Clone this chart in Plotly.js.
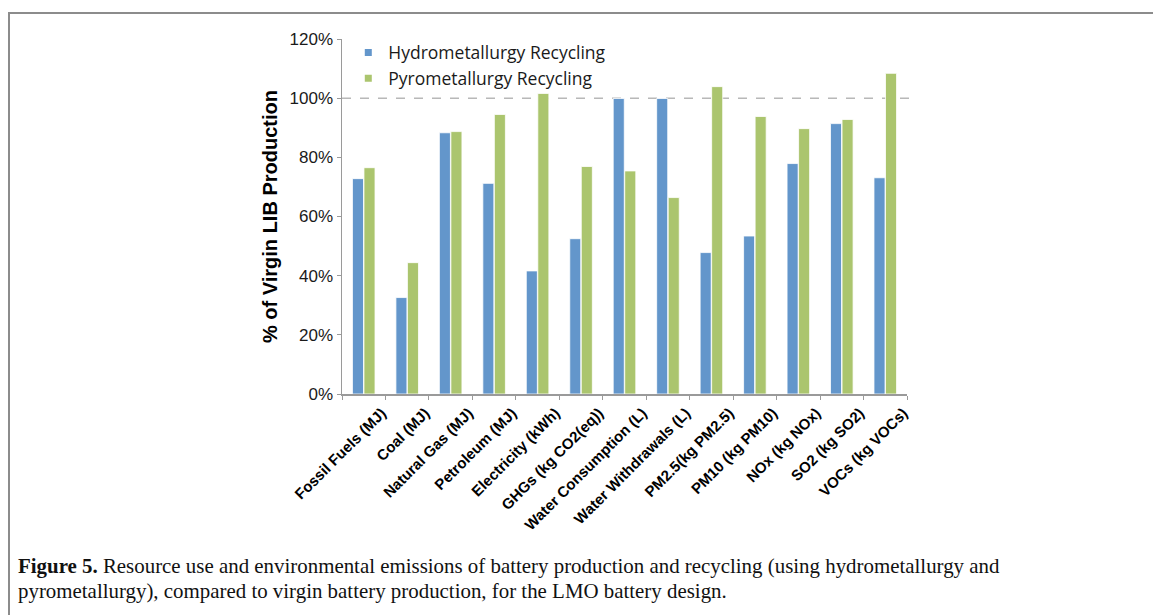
<!DOCTYPE html>
<html>
<head>
<meta charset="utf-8">
<script src="https://cdn.plot.ly/plotly-3.0.1.min.js"></script>
<style>
  html, body { margin: 0; padding: 0; background: #fff; }
  #frame { position: absolute; left: 8px; top: 12px; width: 1145px; height: 603px;
           border-left: 2px solid #8c8c8c; border-top: 2px solid #8c8c8c; box-sizing: border-box; pointer-events: none; }
  #chart { position: absolute; left: 0; top: 0; width: 1153px; height: 615px; }
</style>
</head>
<body>
<div id="chart"></div>
<div id="frame"></div>
<script>
const categories = [
  "Fossil Fuels (MJ)", "Coal (MJ)", "Natural Gas (MJ)", "Petroleum (MJ)",
  "Electricity (kWh)", "GHGs (kg CO2(eq))", "Water Consumption (L)",
  "Water Withdrawals (L)", "PM2.5(kg PM2.5)", "PM10 (kg PM10)",
  "NOx (kg NOx)", "SO2 (kg SO2)", "VOCs (kg VOCs)"
];
const hydroValues = [72.8, 32.6, 88.3, 71.2, 41.6, 52.5, 99.9, 99.9, 47.8, 53.4, 77.9, 91.4, 73.1];
const pyroValues  = [76.5, 44.4, 88.7, 94.5, 101.6, 76.9, 75.4, 66.4, 103.9, 93.8, 89.7, 92.8, 108.4];
const seriesNames = ["Hydrometallurgy Recycling", "Pyrometallurgy Recycling"];
const yTickValues = [0, 20, 40, 60, 80, 100, 120];
const yTickLabels = ["0%", "20%", "40%", "60%", "80%", "100%", "120%"];
const referenceLevel = 100;
const captionBold = "Figure 5.";
const captionLine1 = " Resource use and environmental emissions of battery production and recycling (using hydrometallurgy and";
const captionLine2 = "pyrometallurgy), compared to virgin battery production, for the LMO battery design.";

const blue = "#6396CB";
const green = "#ABC56E";

const L = 341.7, R = 907, T = 39.3, B = 394.5, W = 1153, H = 615;
const pw = R - L, ph = B - T;
const px2x = p => (p - L) / pw;
const py2y = p => (B - p) / ph;

const traces = [
  { type: "bar", x: categories, y: hydroValues, name: seriesNames[0], showlegend: false,
    marker: { color: blue, line: { color: "#ffffff", width: 0.8 } } },
  { type: "bar", x: categories, y: pyroValues, name: seriesNames[1], showlegend: false,
    marker: { color: green, line: { color: "#ffffff", width: 0.8 } } },
  { type: "scatter", mode: "markers", x: [null], y: [null], name: seriesNames[0],
    marker: { symbol: "square", size: 7, color: blue } },
  { type: "scatter", mode: "markers", x: [null], y: [null], name: seriesNames[1],
    marker: { symbol: "square", size: 7, color: green } }
];

const layout = {
  width: W, height: H,
  margin: { l: L, r: W - R, t: T, b: H - B, pad: 0 },
  paper_bgcolor: "#ffffff", plot_bgcolor: "#ffffff",
  barmode: "group", bargap: 0.47, bargroupgap: 0.04,
  showlegend: true,
  legend: {
    x: px2x(348), y: py2y(35), xanchor: "left", yanchor: "top",
    bgcolor: "rgba(0,0,0,0)", borderwidth: 0,
    font: { family: "Open Sans, sans-serif", size: 17.5, color: "#1a1a1a" },
    itemwidth: 30, tracegroupgap: 0
  },
  xaxis: {
    type: "category", showgrid: false, zeroline: false,
    showline: true, linecolor: "#9a9a9a", linewidth: 1.5,
    ticks: "outside", ticklen: 4, tickcolor: "#9a9a9a", tickson: "boundaries",
    tickangle: -45, ticklabelshift: 18, ticklabelstandoff: 3,
    tickfont: { family: "Liberation Sans, Arial, sans-serif", size: 15, color: "#000", weight: "bold" },
    automargin: false, fixedrange: true
  },
  yaxis: {
    range: [0, 120], showgrid: false, zeroline: false,
    showline: true, linecolor: "#9a9a9a", linewidth: 1.5,
    ticks: "outside", ticklen: 4, tickcolor: "#9a9a9a",
    tickvals: yTickValues, ticktext: yTickLabels,
    tickfont: { family: "Liberation Sans, Arial, sans-serif", size: 17, color: "#1a1a1a" },
    title: { text: "<b>% of Virgin LIB Production</b>", standoff: 6,
             font: { family: "Liberation Sans, Arial, sans-serif", size: 20, color: "#000" } },
    automargin: false, fixedrange: true
  },
  shapes: [
    { type: "line", xref: "paper", yref: "y", x0: 0, x1: px2x(914), y0: referenceLevel, y1: referenceLevel,
      line: { color: "#b8b8b8", width: 1.5, dash: "dash" }, layer: "below" }
  ],
  annotations: [
    { xref: "paper", yref: "paper", x: px2x(16), y: py2y(567), xanchor: "left", yanchor: "middle",
      showarrow: false, align: "left",
      text: "<b>" + captionBold + "</b>" + captionLine1,
      font: { family: "Liberation Serif, Times New Roman, serif", size: 20.9, color: "#111" } },
    { xref: "paper", yref: "paper", x: px2x(16), y: py2y(592), xanchor: "left", yanchor: "middle",
      showarrow: false, align: "left",
      text: captionLine2,
      font: { family: "Liberation Serif, Times New Roman, serif", size: 20.9, color: "#111" } }
  ]
};

Plotly.newPlot("chart", traces, layout, { displayModeBar: false, staticPlot: true });
</script>
</body>
</html>
